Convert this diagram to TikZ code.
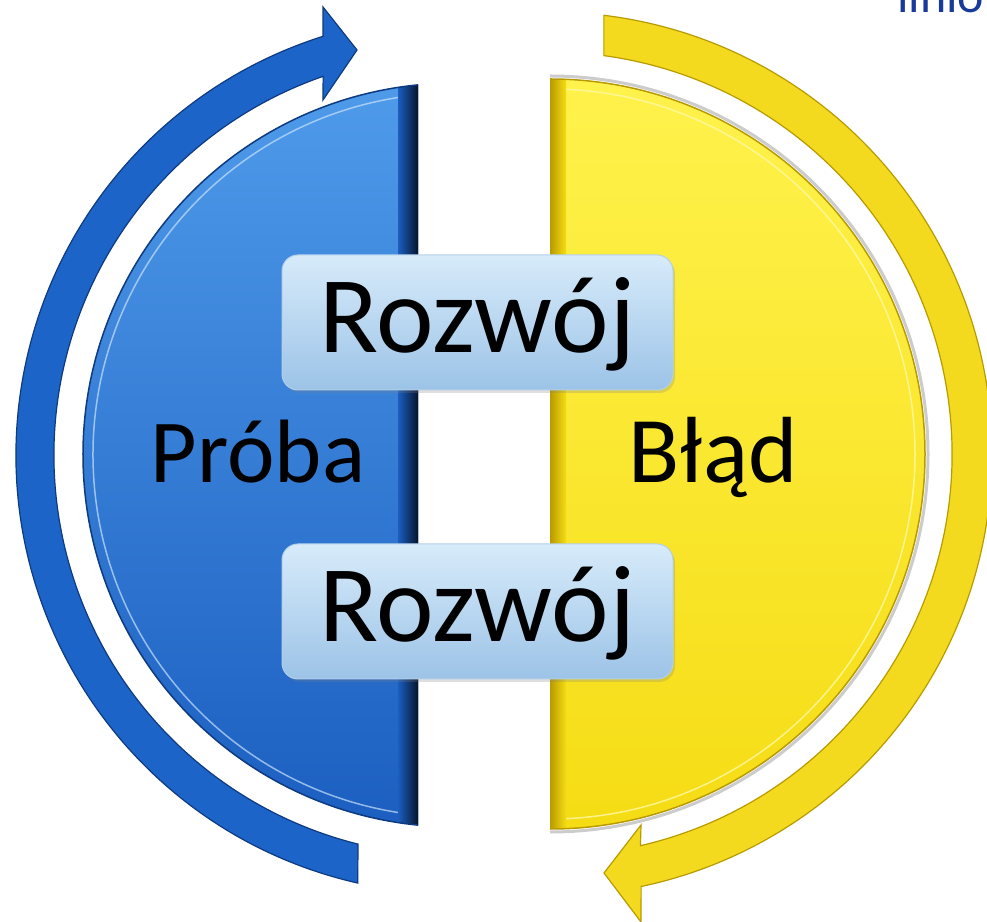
\documentclass[tikz,border=0pt]{standalone}
\usepackage{fontspec}
\setmainfont{Carlito}
\usetikzlibrary{calc}
\usetikzlibrary{positioning}
\usetikzlibrary{shadows}

\definecolor{bluelight}{HTML}{4F9BEA}
\definecolor{bluedark}{HTML}{1B5EC0}
\definecolor{blueedge}{HTML}{0E3A80}
\definecolor{bluearrow}{HTML}{1D64C8}
\definecolor{yellowlight}{HTML}{FFF24C}
\definecolor{yellowdark}{HTML}{F5DC14}
\definecolor{yellowedge}{HTML}{B89B00}
\definecolor{yellowarrow}{HTML}{F4DA1E}
\definecolor{boxtop}{HTML}{D7EBFA}
\definecolor{boxbot}{HTML}{9CC3E7}
\definecolor{boxedge}{HTML}{B3D0EA}
\definecolor{titleblue}{HTML}{1A3A9A}

\begin{document}
\begin{tikzpicture}[x=1pt,y=1pt,node distance=153pt]
\tikzstyle{halfword} = [font=\fontsize{90}{96}\selectfont, text=black, inner sep=0pt]
\tikzstyle{growbox} = [rectangle, rounded corners=16pt, draw=boxedge, line width=1pt,
  top color=boxtop, bottom color=boxbot, minimum width=391pt, minimum height=135pt,
  text height=82pt, text depth=22pt, inner sep=0pt, font=\fontsize{109}{114}\selectfont,
  drop shadow={opacity=0.25, shadow xshift=2pt, shadow yshift=-3pt}]
\useasboundingbox (0,0) rectangle (987,921);
\clip (0,0) rectangle (987,921);
\coordinate (bc) at (455,466);
\coordinate (yc) at (550,467);

% arrows round the halves
\draw[blueedge, line width=1.2pt, fill=bluearrow]
  ($(bc)+(257.2:439pt)$) arc[start angle=257.2, end angle=107.5, radius=439pt]
  -- ($(bc)+(-132,448)$) -- ($(bc)+(-98,405)$) -- ($(bc)+(-132,355)$)
  -- ($(bc)+(109.2:401pt)$) arc[start angle=109.2, end angle=256.0, radius=401pt] -- cycle;
\draw[yellowedge, line width=1.2pt, fill=yellowarrow]
  ($(yc)+(83.0:442pt)$) arc[start angle=83.0, end angle=-78.1, radius=442pt]
  -- ($(yc)+(91,-468)$) -- ($(yc)+(54,-419)$) -- ($(yc)+(91,-371)$)
  -- ($(yc)+(-77.0:402pt)$) arc[start angle=-77.0, end angle=82.3, radius=402pt] -- cycle;

% blue half
\begin{scope}
  \path[clip] ($(bc)+(95.7:372pt)$) arc[start angle=95.7, end angle=264.3, radius=372pt] -- cycle;
  \fill[top color=bluelight, bottom color=bluedark] (80,90) rectangle (420,840);
  \draw[white!70!bluelight, line width=1.5pt, opacity=0.7] ($(bc)+(95:362pt)$) arc[start angle=95, end angle=265, radius=362pt];
  \fill[left color=bluedark, right color=black!70!blueedge] (398,0) rectangle (419,921);
\end{scope}
\draw[blueedge, line width=1.5pt] ($(bc)+(95.7:372pt)$) arc[start angle=95.7, end angle=264.3, radius=372pt];

% yellow half
\draw[black!40, line width=3pt, opacity=0.5] ($(yc)+(90:378pt)$) arc[start angle=90, end angle=-90, radius=378pt];
\begin{scope}
  \path[clip] ($(yc)+(90:375pt)$) arc[start angle=90, end angle=-90, radius=375pt] -- cycle;
  \fill[top color=yellowlight, bottom color=yellowdark] (545,85) rectangle (930,845);
  \draw[white!50!yellowlight, line width=1.5pt, opacity=0.8] ($(yc)+(90:365pt)$) arc[start angle=90, end angle=-90, radius=365pt];
  \fill[left color=yellowedge, right color=yellowdark] (550,0) rectangle (566,921);
\end{scope}
\draw[yellowedge, line width=1.5pt] ($(yc)+(90:375pt)$) arc[start angle=90, end angle=-90, radius=375pt];

% texts
\node[halfword, anchor=base] (proba) at (258,438) {Próba};
\node[halfword, anchor=base, font=\fontsize{94}{100}\selectfont] (blad) at (713,438) {Błąd};
\node[growbox] (growtop) at (477.5,598.5) {Rozwój};
\node[growbox, below=of growtop] (growbot) {Rozwój};
\node[anchor=base west, inner sep=0pt, text=titleblue, font=\fontsize{50}{56}\selectfont] (title) at (897,908) {linio};
\end{tikzpicture}
\end{document}
